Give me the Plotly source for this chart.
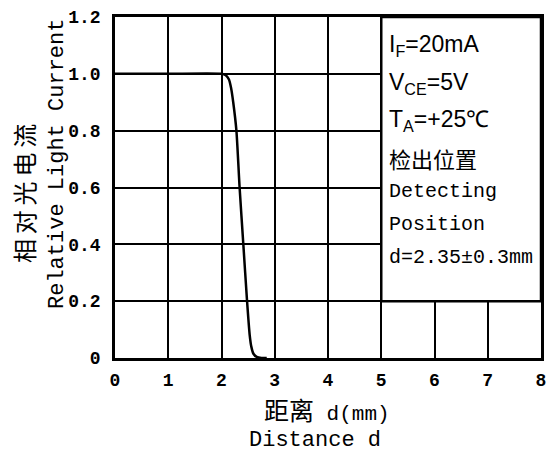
import plotly.graph_objects as go

# Data
distance = [0, 1.0, 2.0, 2.08, 2.14, 2.18, 2.22, 2.28, 2.34, 2.41, 2.48, 2.53, 2.56, 2.60, 2.66, 2.75, 2.85]
rel_current = [1.0, 1.0, 1.0, 0.995, 0.98, 0.95, 0.90, 0.80, 0.60, 0.40, 0.20, 0.08, 0.04, 0.015, 0.004, 0.0, 0.0]
x_ticks = [0, 1, 2, 3, 4, 5, 6, 7, 8]
y_ticks = [0, 0.2, 0.4, 0.6, 0.8, 1.0, 1.2]
y_tick_labels = ["0", "0.2", "0.4", "0.6", "0.8", "1.0", "1.2"]
box_lines = ["I<sub>F</sub>=20mA", "V<sub>CE</sub>=5V", "T<sub>A</sub>=+25℃", "检出位置",
             "Detecting", "Position", "d=2.35±0.3mm"]

MONO = "Liberation Mono, DejaVu Sans Mono, monospace"
CJK = "Noto Sans CJK SC"
COND = "Liberation Sans Narrow, Liberation Sans, sans-serif"

fig = go.Figure()
fig.add_trace(go.Scatter(x=distance, y=rel_current, mode="lines",
                         line=dict(color="black", width=2.5, shape="spline", smoothing=0.6),
                         showlegend=False, hoverinfo="skip"))

L, R, T, B = 115, 541, 17, 358
W, H = 549, 457

def px(x):
    return (x - L) / (R - L)

def py(y):
    return (B - y) / (B - T)

fig.update_layout(
    width=W, height=H,
    margin=dict(l=L, r=W - R, t=T, b=H - B),
    paper_bgcolor="white", plot_bgcolor="white",
    xaxis=dict(range=[0, 8], tickvals=x_ticks, showgrid=True, gridcolor="black", gridwidth=2,
               showline=True, linecolor="black", linewidth=2.5, mirror=True, zeroline=False,
               automargin=False,
               ticks="", tickfont=dict(family=MONO, size=18, color="black", weight="bold"),
               ticklabelstandoff=4),
    yaxis=dict(range=[0, 1.2], tickvals=y_ticks, ticktext=y_tick_labels, showgrid=True,
               gridcolor="black", gridwidth=2, showline=True, linecolor="black", linewidth=2.5,
               mirror=True, zeroline=False, ticks="", automargin=False,
               tickfont=dict(family=MONO, size=18, color="black", weight="bold"),
               ticklabelstandoff=8),
)

# Condition box covering grid
fig.add_shape(type="rect", xref="x", yref="y", x0=5, x1=8, y0=0.2, y1=1.2,
              fillcolor="white", line=dict(color="black", width=2.5), layer="above")

ys = [45, 83, 121, 158, 191, 224, 257]
for txt, yy in zip(box_lines, ys):
    if txt == "检出位置":
        f = dict(family=CJK, size=22, color="black")
    elif txt in ("Detecting", "Position"):
        f = dict(family=MONO, size=20, color="black")
    elif txt.startswith("d="):
        f = dict(family=MONO, size=20, color="black")
    else:
        f = dict(family=COND, size=23, color="black")
    fig.add_annotation(text=txt, xref="paper", yref="paper", x=px(387), y=py(yy),
                       xanchor="left", yanchor="middle", showarrow=False, font=f)

# Axis titles
fig.add_annotation(text="相\u2009对\u2009光\u2009电\u2009流", xref="paper", yref="paper",
                   x=px(23), y=py(194), textangle=-90, showarrow=False,
                   xanchor="center", yanchor="middle",
                   font=dict(family=CJK, size=24, color="black"))
fig.add_annotation(text="Relative Light Current", xref="paper", yref="paper", x=px(58), y=py(164),
                   textangle=-90, showarrow=False, xanchor="center", yanchor="middle",
                   font=dict(family=MONO, size=22, color="black"))
fig.add_annotation(text="<span style='font-family:Noto Sans CJK SC;font-size:25px'>距离</span> d(mm)",
                   xref="paper", yref="paper", x=px(327), y=py(409),
                   showarrow=False, xanchor="center", yanchor="middle",
                   font=dict(family=MONO, size=21, color="black"))
fig.add_annotation(text="Distance d", xref="paper", yref="paper", x=px(315), y=py(440),
                   showarrow=False, xanchor="center", yanchor="middle",
                   font=dict(family=MONO, size=22, color="black"))

fig.write_html("out.html",
               config={"displayModeBar": False, "responsive": False},
               post_script="document.body.style.margin='0';document.body.style.overflow='hidden';")
